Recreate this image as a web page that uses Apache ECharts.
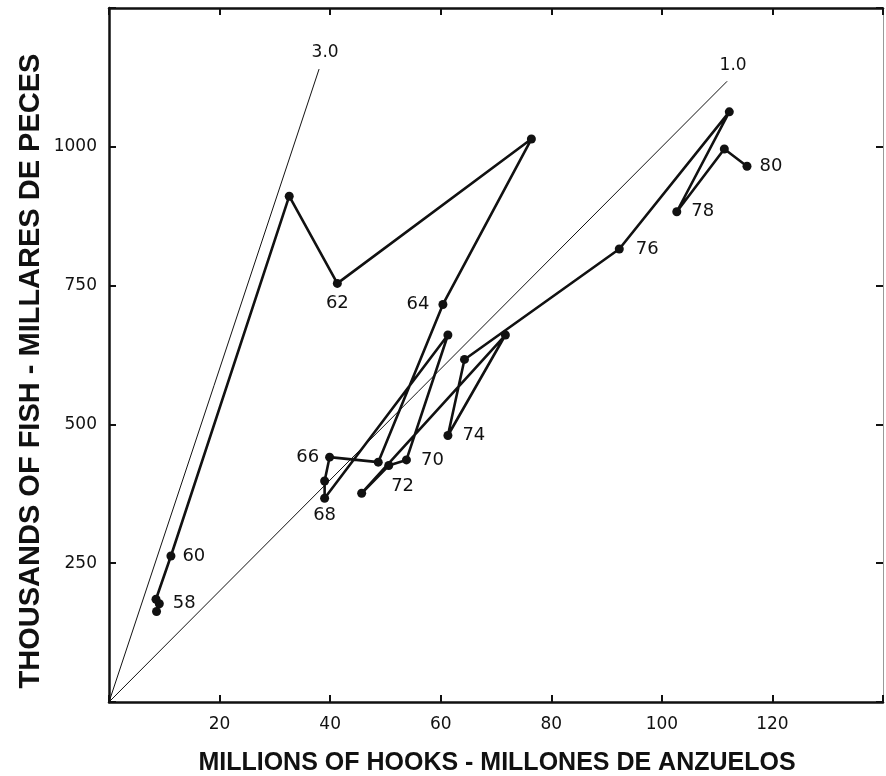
<!DOCTYPE html>
<html>
<head>
<meta charset="utf-8">
<script src="https://cdn.jsdelivr.net/npm/echarts@6/dist/echarts.min.js"></script>
<style>
html,body{margin:0;padding:0;background:#fff;}
#chart{width:886px;height:776px;}
</style>
</head>
<body>
<div id="chart"></div>
<script>
// Longline catch against fishing effort, 1957-1980
const years = [57,58,59,60,61,62,63,64,65,66,67,68,69,70,71,72,73,74,75,76,77,78,79,80];
const hooks = [8.6,9.1,8.5,11.2,32.6,41.3,76.4,60.4,48.7,39.9,39.0,39.0,61.3,53.8,50.6,45.7,71.7,61.3,64.3,92.3,112.2,102.7,111.3,115.4];
const fish  = [163,177,185,263,911,754,1014,716,432,441,398,367,661,436,426,376,661,480,617,816,1063,883,996,965];
const labeledYears = [58,60,62,64,66,68,70,72,74,76,78,80];

const xTicks = [20,40,60,80,100,120];
const yTicks = [250,500,750,1000];

// catch-rate guide lines (fish per 100 hooks)
const rateNames  = ['3.0','1.0'];
const rateSlopes = [30,10];
const rateEnds   = [38,111.8];

const xTitle = 'MILLIONS OF HOOKS - MILLONES DE ANZUELOS';
const yTitle = 'THOUSANDS OF FISH - MILLARES DE PECES';

// where each year label sits relative to its dot
const labelPlace = {
  58:{position:'right',distance:9},
  60:{position:'right',distance:7},
  62:{position:'bottom',distance:6},
  64:{position:'left',distance:9},
  66:{position:'left',distance:6},
  68:{position:'bottom',distance:4},
  70:{position:'right',distance:10},
  72:{position:'right',distance:25,offset:[0,-7]},
  74:{position:'right',distance:10},
  76:{position:'right',distance:12},
  78:{position:'right',distance:10},
  80:{position:'right',distance:8}
};

const INK = '#111';
const numFont = {fontFamily:'DejaVu Sans', fontSize:18, color:INK};

const pathData = hooks.map((h,i)=>{
  const item = {value:[h, fish[i]]};
  const yr = years[i];
  if (labeledYears.includes(yr)) {
    item.label = Object.assign({show:true, formatter:String(yr)}, numFont, labelPlace[yr]);
  }
  return item;
});

const rateSeries = rateNames.map((name,i)=>({
  type:'line',
  silent:true,
  symbol:'circle',
  symbolSize:1,
  showSymbol:true,
  itemStyle:{color:'rgba(0,0,0,0)'},
  lineStyle:{color:INK, width:1},
  label:{show:false},
  data:[
    {value:[0,0]},
    {value:[rateEnds[i], rateEnds[i]*rateSlopes[i]],
     label:Object.assign({show:true, formatter:name, position:'top', distance:7, offset:[6,0]}, numFont, {fontSize:17})}
  ],
  z:1
}));

const axisLineStyle = {color:INK, width:2.5};
function xAxisDef(pos, showLabels){
  return {
    type:'value', position:pos, min:0, max:140, interval:20,
    axisLine:{show:true, onZero:false, lineStyle:axisLineStyle},
    axisTick:{show:true, inside:true, length:7, lineStyle:{color:INK, width:2}},
    axisLabel:{show:showLabels, margin:14, fontFamily:'DejaVu Sans', fontSize:17, color:INK,
      formatter:v=>xTicks.includes(v)?String(v):''},
    splitLine:{show:false}
  };
}
function yAxisDef(pos, showLabels, lineStyle){
  return {
    type:'value', position:pos, min:0, max:1250, interval:250,
    axisLine:{show:true, onZero:false, lineStyle:lineStyle},
    axisTick:{show:true, inside:true, length:7, lineStyle:{color:INK, width:2}},
    axisLabel:{show:showLabels, margin:12, fontFamily:'DejaVu Sans', fontSize:17, color:INK,
      formatter:v=>yTicks.includes(v)?String(v):''},
    splitLine:{show:false}
  };
}

const chart = echarts.init(document.getElementById('chart'), null, {renderer:'canvas'});
chart.setOption({
  animation:false,
  backgroundColor:'#fff',
  grid:{left:109, right:2, top:8, bottom:74, containLabel:false},
  xAxis:[xAxisDef('bottom', true), xAxisDef('top', false)],
  yAxis:[yAxisDef('left', true, axisLineStyle), yAxisDef('right', false, {color:'#999', width:1})],
  series:[
    ...rateSeries,
    {
      type:'line',
      data:pathData,
      symbol:'circle',
      symbolSize:9,
      lineStyle:{color:INK, width:2.6},
      itemStyle:{color:INK},
      z:3
    }
  ],
  graphic:[
    {type:'text', x:497, y:763,
     style:{text:xTitle, textAlign:'center', textVerticalAlign:'middle',
            fontFamily:'Liberation Sans', fontWeight:'bold', fontSize:25, fill:INK}},
    {type:'text', x:31, y:371, rotation:Math.PI/2,
     style:{text:yTitle, textAlign:'center', textVerticalAlign:'middle',
            fontFamily:'Liberation Sans', fontWeight:'bold', fontSize:29, fill:INK}}
  ]
});
</script>
</body>
</html>
